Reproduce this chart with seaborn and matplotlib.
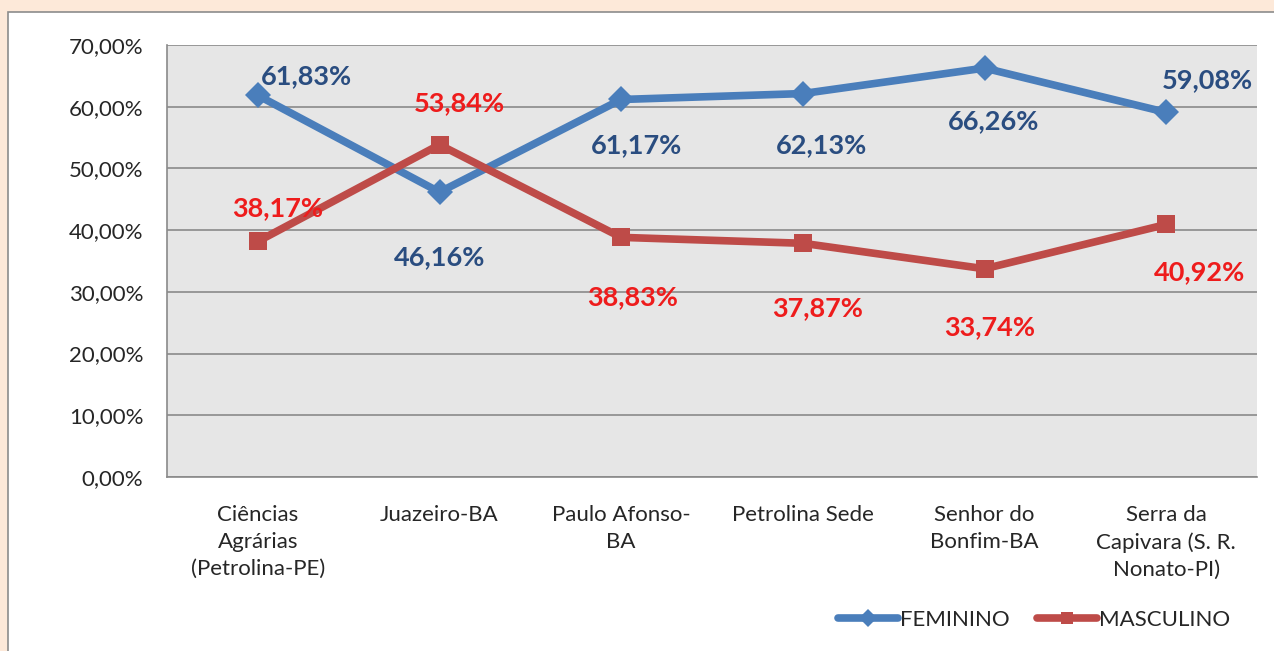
import matplotlib
matplotlib.use("Agg")
import matplotlib.pyplot as plt
import matplotlib.patches as mpatches
from matplotlib.ticker import FuncFormatter, FixedLocator
import seaborn as sns
import pandas as pd

# Dados
campi = ["Ciências\nAgrárias\n(Petrolina-PE)", "Juazeiro-BA", "Paulo Afonso-\nBA",
         "Petrolina Sede", "Senhor do\nBonfim-BA", "Serra da\nCapivara (S. R.\nNonato-PI)"]
feminino = [61.83, 46.16, 61.17, 62.13, 66.26, 59.08]
masculino = [38.17, 53.84, 38.83, 37.87, 33.74, 40.92]

df = pd.DataFrame({
    "campus": list(range(len(campi))) * 2,
    "valor": feminino + masculino,
    "sexo": ["FEMININO"] * len(campi) + ["MASCULINO"] * len(campi),
})

sns.set_style("white")
plt.rcParams['font.family'] = ['Lato', 'DejaVu Sans']

W, H = 1274, 651
fig = plt.figure(figsize=(W / 100, H / 100), dpi=100)
fig.patch.set_facecolor("#fde9d9")
# area branca do grafico (cortada a direita e embaixo)
fig.add_artist(mpatches.Rectangle((8 / W, -0.1), 1.2, 1.1 - 12 / H, transform=fig.transFigure,
                                  facecolor="white", edgecolor="#8c8c8c", linewidth=1.2, zorder=0))

ax = fig.add_axes([167 / W, 1 - 477 / H, (1257 - 167) / W, (477 - 45) / H])
ax.set_facecolor("#e6e6e6")

sns.lineplot(data=df, x="campus", y="valor", hue="sexo", style="sexo",
             palette={"FEMININO": "#4a7ebb", "MASCULINO": "#be4b48"},
             markers={"FEMININO": "D", "MASCULINO": "s"}, dashes=False,
             linewidth=5.5, markersize=13, markeredgewidth=0, ax=ax, legend=True, zorder=3)

ax.set_xlim(-0.5, len(campi) - 0.5)
ax.set_ylim(0, 70)
ax.set_yticks(range(0, 71, 10))
ax.yaxis.set_major_formatter(FuncFormatter(lambda v, p: f"{v:.2f}%".replace(".", ",")))
ax.grid(axis="y", color="#8a8a8a", linewidth=1.2)
ax.set_axisbelow(True)
ax.set_xticks(range(len(campi)))
ax.set_xticklabels(campi, fontsize=16, color="#262626", linespacing=1.45)
ax.xaxis.set_minor_locator(FixedLocator([i - 0.5 for i in range(len(campi) + 1)]))
ax.tick_params(axis="x", which="major", length=0, pad=20)
ax.tick_params(axis="x", which="minor", length=7, color="#8a8a8a", width=1.2, direction="out")
ax.tick_params(axis="y", length=7, color="#8a8a8a", width=1.2, direction="out",
               labelsize=16, labelcolor="#262626", pad=10)
for s in ["top", "right"]:
    ax.spines[s].set_visible(False)
for s in ["left", "bottom"]:
    ax.spines[s].set_color("#8a8a8a")
    ax.spines[s].set_linewidth(1.2)
ax.set_xlabel("")
ax.set_ylabel("")

# rotulos dos dados (deslocamento em pixels)
off_f = [(49, 19), (0, -65), (15, -46), (19, -52), (9, -53), (41, 32)]
off_m = [(20, 33), (20, 42), (11, -60), (15, -65), (5, -58), (33, -48)]
for i, v in enumerate(feminino):
    ax.annotate(f"{v:.2f}%".replace(".", ","), (i, v), xytext=(off_f[i][0] * 0.72, off_f[i][1] * 0.72),
                textcoords="offset points", ha="center", va="center",
                fontsize=19.5, fontweight="bold", color="#2a4d80", zorder=5)
for i, v in enumerate(masculino):
    ax.annotate(f"{v:.2f}%".replace(".", ","), (i, v), xytext=(off_m[i][0] * 0.72, off_m[i][1] * 0.72),
                textcoords="offset points", ha="center", va="center",
                fontsize=19.5, fontweight="bold", color="#ee1c1c", zorder=5)

leg = ax.legend(loc="center left", bbox_to_anchor=(838 / W, 1 - 620 / H), bbox_transform=fig.transFigure,
                ncol=2, frameon=False, fontsize=16, handlelength=2.7, handletextpad=0.1,
                columnspacing=1.2, borderaxespad=0, borderpad=0)
for h in leg.legend_handles:
    h.set_markersize(9)
for t in leg.get_texts():
    t.set_color("#262626")

fig.savefig("out.png", dpi=100, facecolor=fig.get_facecolor())
